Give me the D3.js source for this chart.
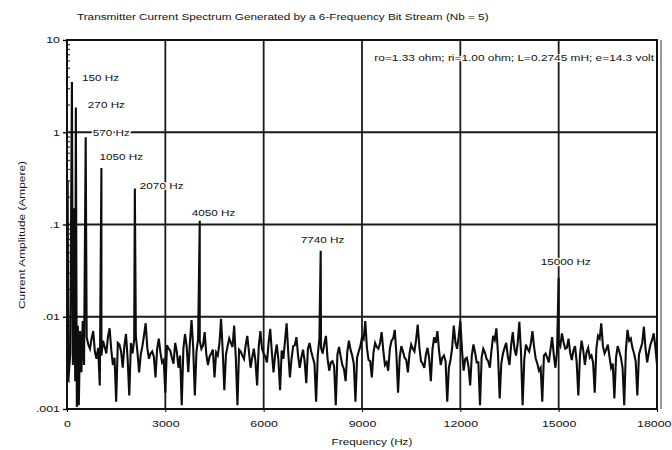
<!DOCTYPE html>
<html>
<head>
<meta charset="utf-8">
<script src="https://cdn.jsdelivr.net/npm/d3@7"></script>
<style>
  body { margin: 0; background: #fff; }
  svg { font-family: 'Liberation Sans', Arial, sans-serif; }
</style>
</head>
<body>
<svg></svg>
<script>
const width = 672;
const height = 450;
const margin = {top: 40, right: 15, bottom: 41, left: 67};
const stretchX = 1.38; // the scan is wider than it is tall

// labelled spectral lines
const peakFreqs = [150, 270, 570, 1050, 2070, 4050, 7740, 15000];
const peakAmps = [3.5, 1.86, 0.88, 0.41, 0.245, 0.11, 0.052, 0.0265];
const peakLabels = ['150 Hz', '270 Hz', '570 Hz', '1050 Hz', '2070 Hz', '4050 Hz', '7740 Hz', '15000 Hz'];

// crowded region near DC
const lowFreqs = [0, 20, 40, 100, 180, 220, 250, 300, 330, 360, 400, 440, 480, 520];
const lowAmps = [0.0035, 0.3, 0.002, 0.004, 0.003, 0.15, 0.002, 0.00105, 0.008, 0.0011, 0.007, 0.0025, 0.009, 0.003];

// noise floor, read every 100 Hz from 600 Hz to 18000 Hz
const noiseStart = 600;
const noiseStep = 100;
const noiseAmps = [
  .006, .0045, .007, .0035, .0018, .0055, .004, .0075, .003, .0012,
  .005, .0028, .0065, .0014, .004, .0062, .0025, .0048, .0085, .0035,
  .0042, .0022, .0058, .0032, .0015, .0045, .0036, .0052, .0028, .0011,
  .0065, .0025, .0092, .0014, .0058, .0045, .0068, .003, .004, .0022,
  .0038, .0095, .0016, .0048, .0052, .008, .0011, .0042, .0035, .0062,
  .0028, .0045, .0018, .007, .004, .0032, .0074, .0025, .005, .0016,
  .0035, .0085, .0022, .0048, .006, .0028, .0044, .0019, .0052, .0036,
  .0012, .0058, .004, .0062, .0026, .0033, .0011, .0047, .003, .002,
  .0055, .0038, .0012, .0042, .006, .009, .0034, .0022, .0052, .0045,
  .0068, .003, .0026, .0055, .0072, .0015, .0048, .0036, .0025, .005,
  .0042, .0082, .0033, .0028, .0046, .002, .006, .007, .003, .0038,
  .0012, .0034, .008, .0045, .009, .0026, .0036, .0018, .005, .0032,
  .0011, .0045, .0035, .0028, .0062, .0075, .0013, .004, .0052, .003,
  .0068, .0038, .0088, .0011, .005, .0042, .007, .0035, .0026, .0012,
  .004, .0032, .006, .0028, .0052, .0066, .0045, .0058, .0034, .0048,
  .0014, .0055, .003, .0046, .0038, .0015, .0062, .0085, .004, .005,
  .0028, .0013, .0048, .0036, .0011, .0072, .0058, .004, .0014, .0045,
  .0078, .0032, .005, .0066, .003
];
// in-between samples of the floor, 650 Hz to 17950 Hz
const noiseMidStart = 650;
const noiseMidAmps = [
  .005, .0058, .0042, .0046, .0038, .0047, .0061, .0044, .0036, .0052,
  .0042, .0048, .0035, .0052, .0057, .0041, .0039, .0063, .0046, .004,
  .0037, .0045, .0041, .0034, .0049, .0043, .0031, .0042, .0038, .0045,
  .0048, .0053, .0046, .0042, .0055, .0049, .0039, .0037, .0044, .0041,
  .0051, .0043, .0039, .0058, .0047, .0036, .0044, .0038, .0049, .0042,
  .0036, .0033, .0048, .0045, .0037, .0052, .0041, .0039, .0034, .0043,
  .0054, .0041, .0035, .0049, .0038, .0036, .0033, .0045, .0042, .0031,
  .0038, .0046, .0051, .0035, .0032, .0029, .0039, .0037, .0027, .0041,
  .0044, .0031, .0036, .0048, .0057, .0046, .0033, .0041, .0047, .0052,
  .0043, .0032, .0045, .0058, .0039, .0036, .0042, .0034, .004, .0045,
  .0056, .0047, .0031, .0039, .0035, .0044, .0052, .0043, .0036, .0033,
  .0028, .0046, .0053, .0061, .0044, .0035, .0029, .0038, .0041, .0032,
  .0036, .0041, .0033, .0043, .0056, .0039, .0031, .0046, .0037, .0049,
  .0045, .0052, .0042, .0034, .0045, .0051, .0047, .0031, .0028, .0038,
  .0036, .0044, .0039, .0042, .0048, .0053, .0046, .0041, .0043, .0032,
  .0038, .0043, .0041, .0036, .0032, .0045, .0058, .0048, .0044, .0037,
  .0031, .0036, .0042, .0028, .0043, .0055, .0046, .0033, .0039, .0052,
  .0045, .0041, .0056, .0047
];

const xTicks = [0, 3000, 6000, 9000, 12000, 15000, 18000];
const yTicks = [0.001, 0.01, 0.1, 1, 10];
const yTickLabels = ['.001', '.01', '.1', '1', '10'];

const title = 'Transmitter Current Spectrum  Generated by a 6-Frequency Bit Stream (Nb = 5)';
const note = 'ro=1.33 ohm; ri=1.00 ohm; L=0.2745 mH; e=14.3 volt';

// label placement relative to each peak top (px)
const labelDx = [10, 12, 7, -2, 5, -8, -20, -18];
const labelDy = [-1, 1, -1, -8, 0, -5, -8, -13];

const spectrum = [];
lowFreqs.forEach((f, i) => spectrum.push([f, lowAmps[i]]));
peakFreqs.forEach((f, i) => spectrum.push([f, peakAmps[i]]));
noiseAmps.forEach((a, i) => spectrum.push([noiseStart + i * noiseStep, a]));
noiseMidAmps.forEach((a, i) => spectrum.push([noiseMidStart + i * noiseStep, a]));
spectrum.sort((a, b) => a[0] - b[0]);

// widen text around its anchor point
function stretch(sel) {
    sel.each(function() {
        const t = d3.select(this);
        const x = +t.attr('x') || 0;
        t.attr('transform', `translate(${x},0) scale(${stretchX},1) translate(${-x},0)`);
    });
}

const svg = d3.select('svg')
    .attr('width', width)
    .attr('height', height);

const xScale = d3.scaleLinear()
    .domain([0, 18000])
    .range([margin.left, width - margin.right]);
const yScale = d3.scaleLog()
    .domain([0.001, 10])
    .range([height - margin.bottom, margin.top]);

// grid
svg.append('g')
    .selectAll('line')
    .data(xTicks.slice(1, -1))
    .enter()
    .append('line')
        .attr('x1', d => xScale(d))
        .attr('x2', d => xScale(d))
        .attr('y1', yScale(10))
        .attr('y2', yScale(0.001))
        .attr('stroke', '#1a1a1a')
        .attr('stroke-width', 1.8);
svg.append('g')
    .selectAll('line')
    .data(yTicks.slice(1, -1))
    .enter()
    .append('line')
        .attr('x1', xScale(0))
        .attr('x2', xScale(18000))
        .attr('y1', d => yScale(d))
        .attr('y2', d => yScale(d))
        .attr('stroke', '#1a1a1a')
        .attr('stroke-width', 1.8);

// minor ticks on the log axis
const minorTicks = [];
yTicks.slice(0, -1).forEach(t => {
    for (let k = 2; k < 10; k++) minorTicks.push(t * k);
});
svg.append('g')
    .attr('transform', `translate(${xScale(0)}, 0)`)
    .call(d3.axisLeft(yScale).tickValues(minorTicks).tickSize(-3).tickFormat(''))
    .call(g => g.select('.domain').remove())
    .selectAll('line').attr('stroke', '#333').attr('stroke-width', 1.2);

// spectrum trace
const line = d3.line()
    .x(d => xScale(d[0]))
    .y(d => yScale(d[1]));
svg.append('path')
    .datum(spectrum)
    .attr('d', line)
    .attr('fill', 'none')
    .attr('stroke', '#0d0d0d')
    .attr('stroke-width', 2.1)
    .attr('stroke-linejoin', 'miter');

// frame
svg.append('rect')
    .attr('x', xScale(0))
    .attr('y', yScale(10))
    .attr('width', xScale(18000) - xScale(0))
    .attr('height', yScale(0.001) - yScale(10))
    .attr('fill', 'none')
    .attr('stroke', '#111')
    .attr('stroke-width', 2);
svg.append('line')
    .attr('x1', xScale(18000) + 4)
    .attr('x2', xScale(18000) + 4)
    .attr('y1', yScale(10))
    .attr('y2', yScale(0.001))
    .attr('stroke', '#555')
    .attr('stroke-width', 1.2);

// axes
const yAxis = d3.axisLeft(yScale)
    .tickValues(yTicks)
    .tickSize(4)
    .tickFormat((d, i) => yTickLabels[i]);
svg.append('g')
    .attr('transform', `translate(${xScale(0)}, 0)`)
    .call(yAxis)
    .call(g => g.select('.domain').remove())
    .call(g => g.selectAll('line').attr('stroke-width', 1.4))
    .call(g => g.selectAll('text').attr('font-size', 9).attr('fill', '#111').call(stretch));

const xAxis = d3.axisBottom(xScale)
    .tickValues(xTicks)
    .tickSize(3)
    .tickFormat(d3.format('d'));
svg.append('g')
    .attr('transform', `translate(0, ${yScale(0.001)})`)
    .call(xAxis)
    .call(g => g.select('.domain').remove())
    .call(g => g.selectAll('text').attr('font-size', 9).attr('dy', '1.3em').attr('fill', '#111').call(stretch))
    .call(g => g.selectAll('text').filter(d => d === 18000)
        .style('text-anchor', 'end').attr('x', 14).call(stretch));

// peak labels
svg.append('g')
    .selectAll('text')
    .data(peakFreqs)
    .enter()
    .append('text')
        .attr('x', (d, i) => xScale(d) + labelDx[i])
        .attr('y', (d, i) => yScale(peakAmps[i]) + labelDy[i])
        .attr('font-size', 8.5)
        .attr('fill', '#111')
        .attr('stroke', '#fff')
        .attr('stroke-width', 2.5)
        .attr('paint-order', 'stroke')
        .text((d, i) => peakLabels[i])
        .call(stretch);

// titles
svg.append('text')
    .attr('x', 77)
    .attr('y', 20)
    .attr('font-size', 8.5)
    .attr('fill', '#111')
    .text(title)
    .call(stretch);

svg.append('text')
    .attr('x', width - margin.right - 3)
    .attr('y', 61)
    .style('text-anchor', 'end')
    .attr('font-size', 8.6)
    .attr('fill', '#111')
    .attr('stroke', '#fff')
    .attr('stroke-width', 2)
    .attr('paint-order', 'stroke')
    .text(note)
    .call(stretch);

svg.append('text')
    .attr('x', 372)
    .attr('y', 445)
    .style('text-anchor', 'middle')
    .attr('font-size', 8.5)
    .attr('fill', '#111')
    .text('Frequency (Hz)')
    .call(stretch);

svg.append('text')
    .attr('transform', 'rotate(-90)')
    .attr('x', -235)
    .attr('y', 25)
    .style('text-anchor', 'middle')
    .attr('font-size', 9)
    .attr('textLength', 148)
    .attr('lengthAdjust', 'spacingAndGlyphs')
    .attr('fill', '#111')
    .text('Current Amplitude (Ampere)');
</script>
</body>
</html>
